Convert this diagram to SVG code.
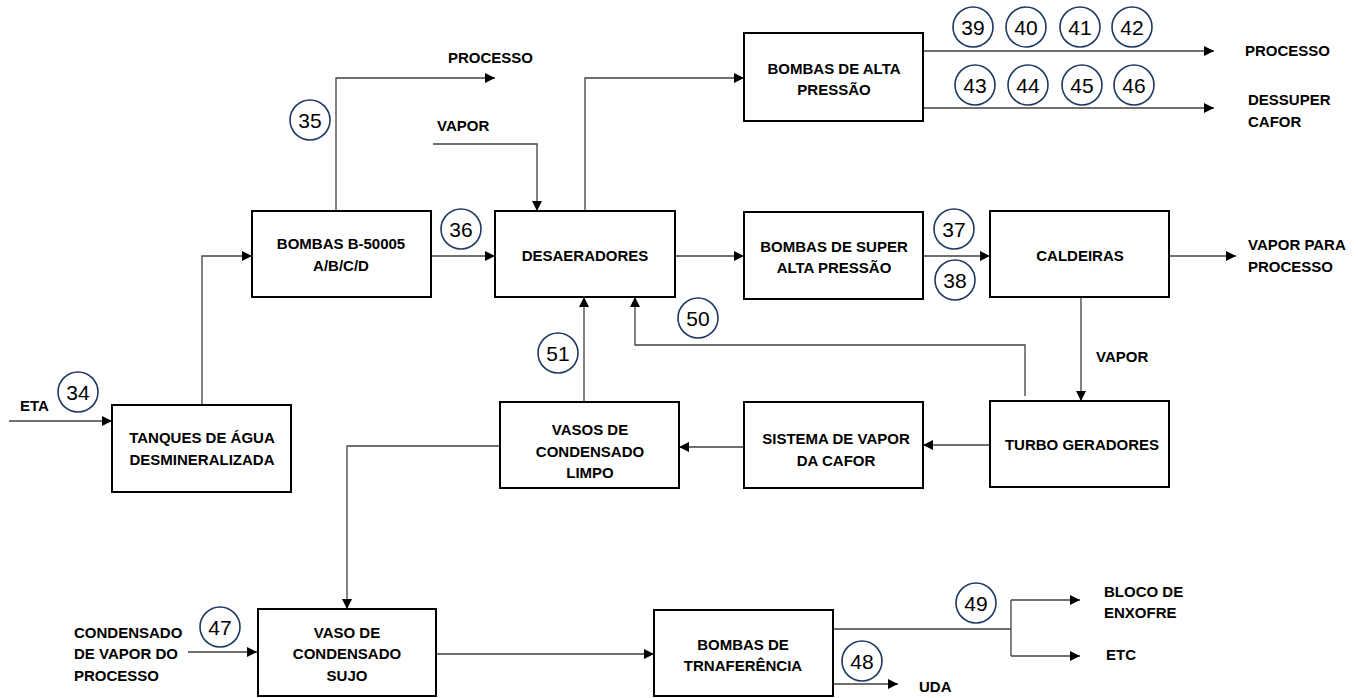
<svg xmlns="http://www.w3.org/2000/svg" width="1358" height="698" viewBox="0 0 1358 698">
  <style>
    .box { fill: #ffffff; stroke: #000000; stroke-width: 2; }
    .lbl { font-family: "Liberation Sans", Arial, sans-serif; font-weight: bold; font-size: 15px; fill: #000000; }
    .mid { text-anchor: middle; }
    .wire { fill: none; stroke: #404040; stroke-width: 1.3; }
    .tag circle { fill: #ffffff; stroke: #1f3864; stroke-width: 1.6; }
    .tag text { font-family: "Liberation Sans", Arial, sans-serif; font-size: 21px; fill: #000000; text-anchor: middle; }
  </style>
  <defs>
    <marker id="arrow" viewBox="0 0 10 10" refX="10" refY="5" markerWidth="11" markerHeight="10" markerUnits="userSpaceOnUse" orient="auto">
      <path d="M0,0 L10,5 L0,10 Z" fill="#000000"/>
    </marker>
  </defs>
  <rect width="1358" height="698" fill="#ffffff"/>

  <!-- connectors -->
  <g id="connectors">
    <path class="wire" d="M9,421 H112" marker-end="url(#arrow)"/>
    <path class="wire" d="M202,405 V256 H252" marker-end="url(#arrow)"/>
    <path class="wire" d="M336,211 V78 H495" marker-end="url(#arrow)"/>
    <path class="wire" d="M431,256 H495" marker-end="url(#arrow)"/>
    <path class="wire" d="M433,144 H537 V211" marker-end="url(#arrow)"/>
    <path class="wire" d="M585,211 V78 H744" marker-end="url(#arrow)"/>
    <path class="wire" d="M923,51 H1214" marker-end="url(#arrow)"/>
    <path class="wire" d="M923,108 H1214" marker-end="url(#arrow)"/>
    <path class="wire" d="M675,256 H744" marker-end="url(#arrow)"/>
    <path class="wire" d="M923,256 H990" marker-end="url(#arrow)"/>
    <path class="wire" d="M1169,256 H1236" marker-end="url(#arrow)"/>
    <path class="wire" d="M1081,297 V401" marker-end="url(#arrow)"/>
    <path class="wire" d="M1025,396 V345 H635 V297" marker-end="url(#arrow)"/>
    <path class="wire" d="M584,402 V297" marker-end="url(#arrow)"/>
    <path class="wire" d="M990,445 H923" marker-end="url(#arrow)"/>
    <path class="wire" d="M744,447 H679" marker-end="url(#arrow)"/>
    <path class="wire" d="M500,446 H347 V609" marker-end="url(#arrow)"/>
    <path class="wire" d="M188,652 H257" marker-end="url(#arrow)"/>
    <path class="wire" d="M436,654 H654" marker-end="url(#arrow)"/>
    <path class="wire" d="M833,629 H1011"/>
    <path class="wire" d="M1011,600 V656"/>
    <path class="wire" d="M1011,600 H1080" marker-end="url(#arrow)"/>
    <path class="wire" d="M1011,656 H1080" marker-end="url(#arrow)"/>
    <path class="wire" d="M833,684 H898" marker-end="url(#arrow)"/>
  </g>

  <!-- process units -->
  <g id="tanques">
    <rect class="box" x="112" y="405" width="179" height="87"/>
    <text class="lbl mid" x="202" y="443">TANQUES DE ÁGUA</text>
    <text class="lbl mid" x="202" y="465">DESMINERALIZADA</text>
  </g>
  <g id="bombas-b50005">
    <rect class="box" x="252" y="211" width="179" height="86"/>
    <text class="lbl mid" x="341" y="249">BOMBAS B-50005</text>
    <text class="lbl mid" x="341" y="271">A/B/C/D</text>
  </g>
  <g id="desaeradores">
    <rect class="box" x="495" y="211" width="180" height="86"/>
    <text class="lbl mid" x="585" y="261">DESAERADORES</text>
  </g>
  <g id="bombas-alta">
    <rect class="box" x="744" y="33" width="179" height="88"/>
    <text class="lbl mid" x="834" y="74">BOMBAS DE ALTA</text>
    <text class="lbl mid" x="834" y="95">PRESSÃO</text>
  </g>
  <g id="bombas-super">
    <rect class="box" x="744" y="212" width="179" height="87"/>
    <text class="lbl mid" x="834" y="252">BOMBAS DE SUPER</text>
    <text class="lbl mid" x="834" y="273">ALTA PRESSÃO</text>
  </g>
  <g id="caldeiras">
    <rect class="box" x="990" y="211" width="179" height="86"/>
    <text class="lbl mid" x="1080" y="261">CALDEIRAS</text>
  </g>
  <g id="turbo-geradores">
    <rect class="box" x="990" y="401" width="179" height="86"/>
    <text class="lbl mid" x="1082" y="450">TURBO GERADORES</text>
  </g>
  <g id="sistema-vapor">
    <rect class="box" x="744" y="402" width="179" height="86"/>
    <text class="lbl mid" x="836" y="444">SISTEMA DE VAPOR</text>
    <text class="lbl mid" x="836" y="466">DA CAFOR</text>
  </g>
  <g id="vasos-limpo">
    <rect class="box" x="500" y="402" width="179" height="86"/>
    <text class="lbl mid" x="590" y="435">VASOS DE</text>
    <text class="lbl mid" x="590" y="457">CONDENSADO</text>
    <text class="lbl mid" x="590" y="478">LIMPO</text>
  </g>
  <g id="vaso-sujo">
    <rect class="box" x="258" y="609" width="178" height="87"/>
    <text class="lbl mid" x="347" y="638">VASO DE</text>
    <text class="lbl mid" x="347" y="659">CONDENSADO</text>
    <text class="lbl mid" x="347" y="681">SUJO</text>
  </g>
  <g id="bombas-transferencia">
    <rect class="box" x="654" y="610" width="179" height="86"/>
    <text class="lbl mid" x="743" y="650">BOMBAS DE</text>
    <text class="lbl mid" x="743" y="671">TRNAFERÊNCIA</text>
  </g>

  <!-- stream labels -->
  <g id="labels">
    <text class="lbl" x="448" y="63">PROCESSO</text>
    <text class="lbl" x="437" y="131">VAPOR</text>
    <text class="lbl" x="1245" y="56">PROCESSO</text>
    <text class="lbl" x="1248" y="105">DESSUPER</text>
    <text class="lbl" x="1248" y="127">CAFOR</text>
    <text class="lbl" x="1248" y="250">VAPOR PARA</text>
    <text class="lbl" x="1248" y="272">PROCESSO</text>
    <text class="lbl" x="1096" y="362">VAPOR</text>
    <text class="lbl" x="20" y="411">ETA</text>
    <text class="lbl" x="74" y="638">CONDENSADO</text>
    <text class="lbl" x="74" y="659">DE VAPOR DO</text>
    <text class="lbl" x="74" y="681">PROCESSO</text>
    <text class="lbl" x="1104" y="597">BLOCO DE</text>
    <text class="lbl" x="1104" y="618">ENXOFRE</text>
    <text class="lbl" x="1106" y="660">ETC</text>
    <text class="lbl" x="919" y="692">UDA</text>
  </g>

  <!-- stream numbers -->
  <g id="stream-tags" class="tag">
    <g id="tag34"><circle cx="78" cy="392" r="20"/><text x="78" y="400">34</text></g>
    <g id="tag35"><circle cx="310" cy="120" r="20"/><text x="310" y="128">35</text></g>
    <g id="tag36"><circle cx="461" cy="229" r="20"/><text x="461" y="237">36</text></g>
    <g id="tag37"><circle cx="954" cy="229" r="20"/><text x="954" y="237">37</text></g>
    <g id="tag38"><circle cx="955" cy="280" r="20"/><text x="955" y="288">38</text></g>
    <g id="tag39"><circle cx="973" cy="27" r="20"/><text x="973" y="35">39</text></g>
    <g id="tag40"><circle cx="1026" cy="27" r="20"/><text x="1026" y="35">40</text></g>
    <g id="tag41"><circle cx="1080" cy="27" r="20"/><text x="1080" y="35">41</text></g>
    <g id="tag42"><circle cx="1132" cy="27" r="20"/><text x="1132" y="35">42</text></g>
    <g id="tag43"><circle cx="975" cy="85" r="20"/><text x="975" y="93">43</text></g>
    <g id="tag44"><circle cx="1028" cy="85" r="20"/><text x="1028" y="93">44</text></g>
    <g id="tag45"><circle cx="1082" cy="85" r="20"/><text x="1082" y="93">45</text></g>
    <g id="tag46"><circle cx="1134" cy="85" r="20"/><text x="1134" y="93">46</text></g>
    <g id="tag47"><circle cx="220" cy="627" r="20"/><text x="220" y="635">47</text></g>
    <g id="tag48"><circle cx="862" cy="661" r="20"/><text x="862" y="669">48</text></g>
    <g id="tag49"><circle cx="976" cy="603" r="20"/><text x="976" y="611">49</text></g>
    <g id="tag50"><circle cx="698" cy="318" r="20"/><text x="698" y="326">50</text></g>
    <g id="tag51"><circle cx="558" cy="353" r="20"/><text x="558" y="361">51</text></g>
  </g>
</svg>
